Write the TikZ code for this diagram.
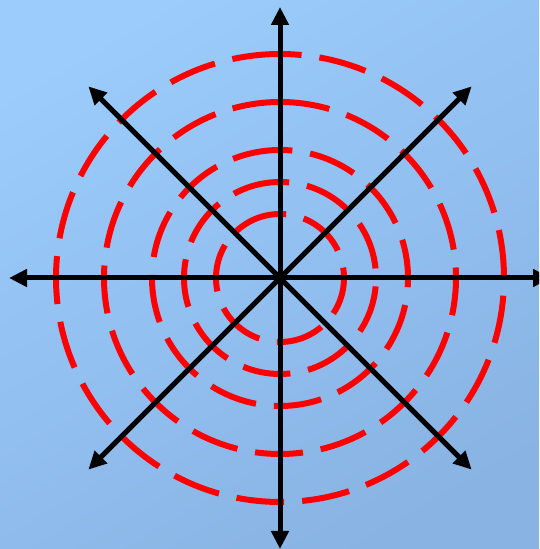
\documentclass[tikz,border=0pt]{standalone}
\usetikzlibrary{arrows.meta,calc}
\definecolor{bgtl}{HTML}{9BCCFC}
\definecolor{bgbr}{HTML}{88B3E3}
\definecolor{ringred}{HTML}{FF0000}
\tikzset{
  ring/.style={draw=ringred, line width=6pt, dash pattern=on 48pt off 18pt, line cap=butt},
  axisarrow/.style={draw=black, line width=5pt, -{Triangle[length=18pt,width=17pt]}}
}
\begin{document}
\begin{tikzpicture}[x=1pt,y=1pt]
\useasboundingbox (0,0) rectangle (539,549);
\clip (0,0) rectangle (539,549);
\shade[shading=axis, top color=bgtl, bottom color=bgbr, shading angle=30] (-20,-20) rectangle (559,569);
\coordinate (O) at (280,271);
\foreach \r in {224,176,128,96,64}{
  \draw[ring] (O) ++(0,\r) arc[start angle=90, end angle=450, radius=\r];
}
\foreach \a/\n in {0/E,45/NE,90/N,135/NW,180/W,225/SW,270/S,315/SE}{
  \coordinate (\n) at ($(O)+(\a:271)$);
}
\foreach \n in {E,NE,N,NW,W,SW,S,SE}{
  \draw[axisarrow] (O) -- (\n);
}
\end{tikzpicture}
\end{document}
